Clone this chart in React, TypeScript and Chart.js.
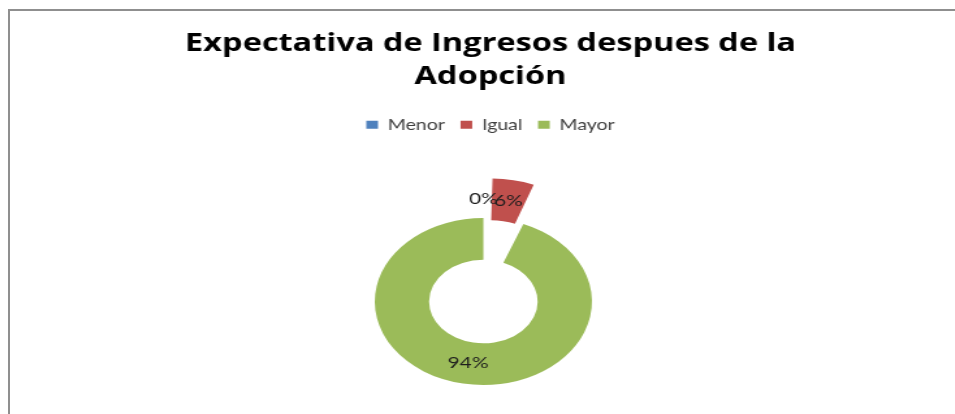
import React, { useEffect, useRef } from 'react';
import { Chart, registerables } from 'chart.js';

Chart.register(...registerables);

const categories = ['Menor', 'Igual', 'Mayor'];
const values = [0, 6, 94];
const percentLabels = ['0%', '6%', '94%'];
const sliceColors = ['#4F81BD', '#C0504D', '#9BBB59'];
const explodeOffsets = [80, 98, 0];
const titleLines = ['Expectativa de Ingresos despues de la', 'Adopción'];

const SX = 1.3;
const CW = 742;
const CH = 470;

function arcShift(off: number, circ: number) {
  return (off / 4) * (2 - Math.sin(Math.min(Math.PI, circ)));
}

const shiftPlugin = {
  id: 'shiftArea',
  afterLayout(chart: any) {
    chart.chartArea.left -= 5.5;
    chart.chartArea.right -= 5.5;
  },
};

const labelPlugin = {
  id: 'pctLabels',
  afterDatasetsDraw(chart: any) {
    const meta = chart.getDatasetMeta(0);
    const ctx = chart.ctx;
    ctx.save();
    ctx.font = '16px Lato';
    ctx.fillStyle = '#1e1e1e';
    ctx.textAlign = 'center';
    ctx.textBaseline = 'middle';
    meta.data.forEach((arc: any, i: number) => {
      const p = arc.getProps(['x', 'y', 'startAngle', 'endAngle', 'innerRadius', 'outerRadius'], true);
      const off = arc.options.offset || 0;
      const a = (p.startAngle + p.endAngle) / 2;
      const r = (p.innerRadius + p.outerRadius) / 2 + arcShift(off, p.endAngle - p.startAngle);
      ctx.fillText(percentLabels[i], p.x + Math.cos(a) * r, p.y + Math.sin(a) * r);
    });
    ctx.restore();
  },
};

export default function App() {
  const ref = useRef<HTMLCanvasElement>(null);
  useEffect(() => {
    let chart: Chart | null = null;
    let cancelled = false;
    const make = () => {
      if (cancelled || !ref.current) return;
      chart = new Chart(ref.current, {
        type: 'doughnut',
        data: {
          labels: categories,
          datasets: [
            {
              data: values,
              backgroundColor: sliceColors,
              borderWidth: 0,
              offset: explodeOffsets,
              hoverOffset: 0,
              clip: false,
            } as any,
          ],
        },
        options: {
          responsive: false,
          animation: false,
          events: [],
          cutout: '50%',
          radius: 83.5,
          layout: { padding: { top: 0, bottom: 9, left: 0, right: 0 } },
          plugins: {
            title: {
              display: true,
              text: titleLines,
              color: '#000000',
              font: { family: '"Open Sans"', size: 25, weight: 'bold', lineHeight: 1.304 },
              padding: { top: 28, bottom: 12 },
            },
            legend: {
              display: true,
              position: 'top',
              labels: {
                boxWidth: 9,
                boxHeight: 8,
                padding: 12,
                color: '#404040',
                font: { family: 'Lato', size: 15 },
              },
            },
            tooltip: { enabled: false },
          },
        } as any,
        plugins: [shiftPlugin, labelPlugin],
      });
    };
    Promise.all([
      document.fonts.load('bold 25px "Open Sans"'),
      document.fonts.load('15px Lato'),
    ]).then(make, make);
    return () => {
      cancelled = true;
      if (chart) chart.destroy();
    };
  }, []);

  return (
    <div
      style={{
        position: 'absolute',
        left: 0,
        top: 0,
        width: 955,
        height: 414,
        overflow: 'hidden',
        background: '#ffffff',
      }}
    >
      <canvas
        ref={ref}
        width={CW}
        height={CH}
        style={{
          position: 'absolute',
          left: 8,
          top: 0,
          width: `${CW * SX}px`,
          height: `${CH}px`,
        }}
      />
      <div
        style={{
          position: 'absolute',
          left: 8,
          top: 9,
          width: 1200,
          height: 800,
          borderLeft: '2px solid #8f8f8f',
          borderTop: '2px solid #8f8f8f',
          pointerEvents: 'none',
        }}
      />
    </div>
  );
}
